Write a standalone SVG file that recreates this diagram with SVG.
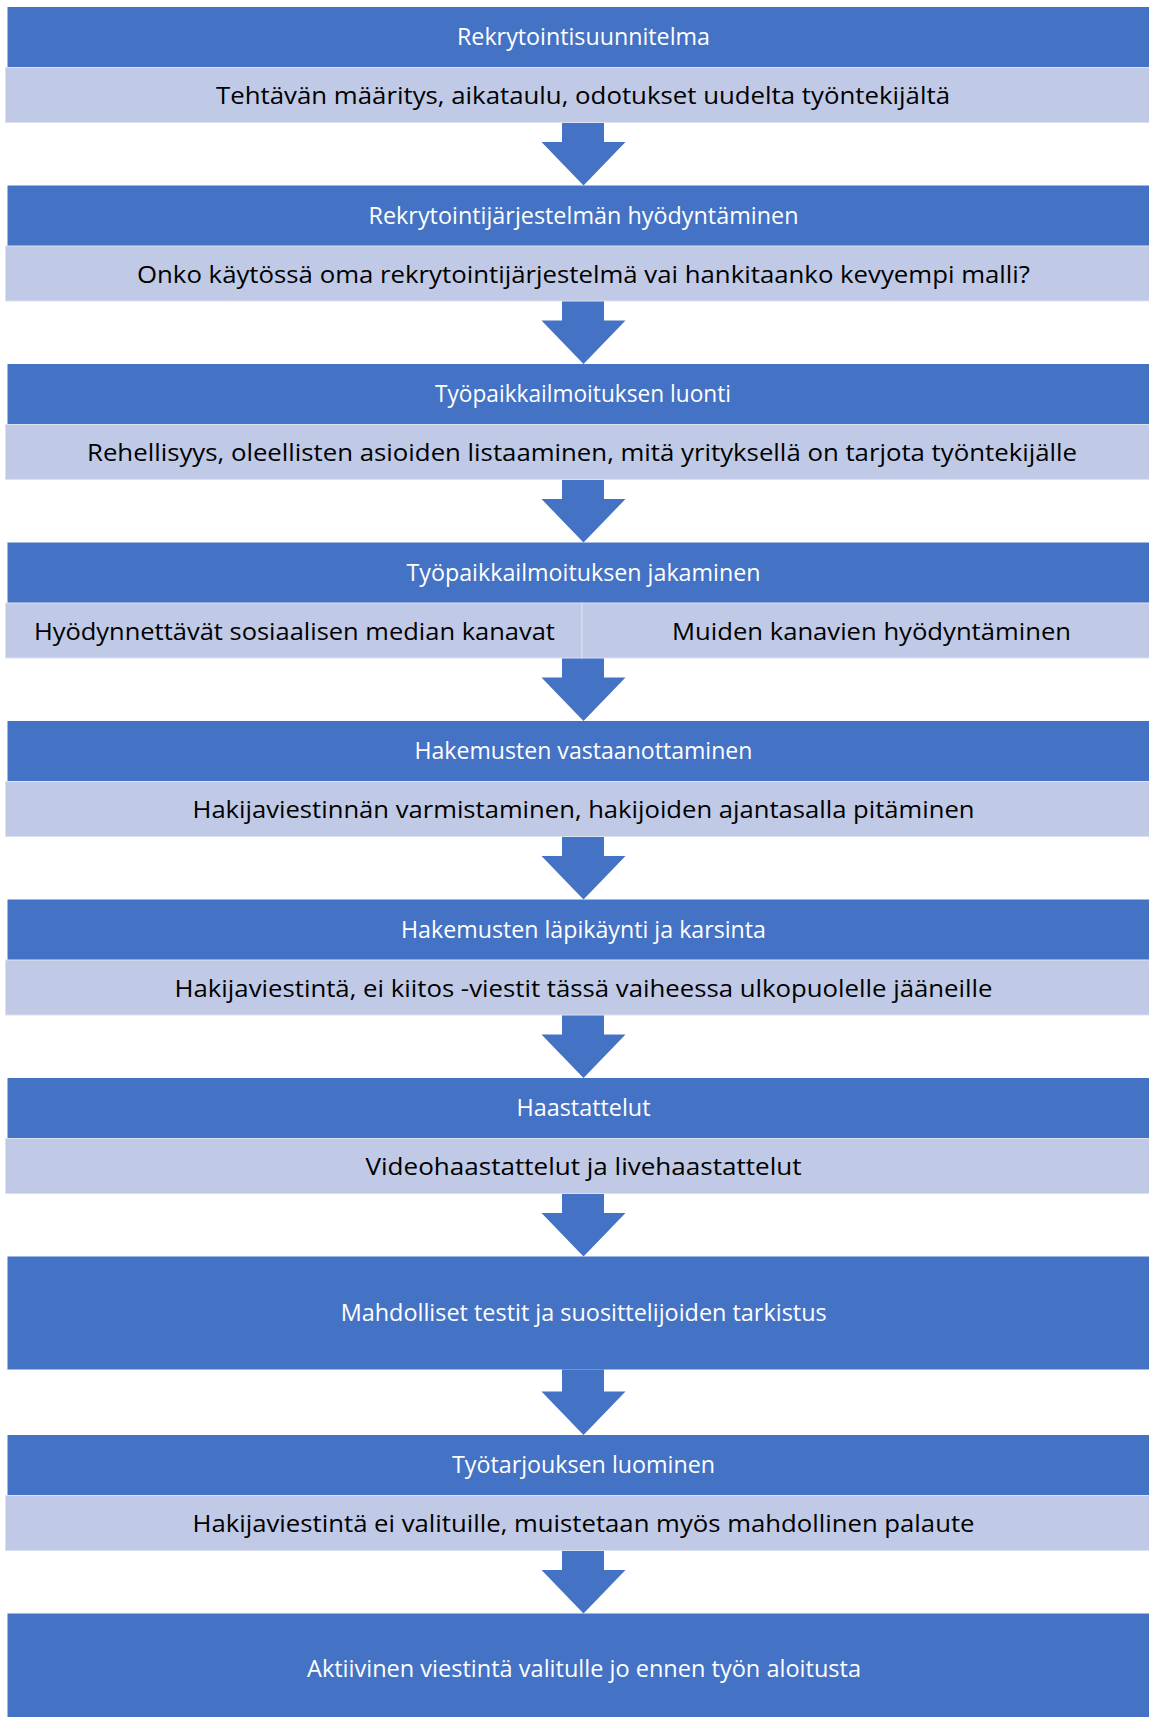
<svg xmlns="http://www.w3.org/2000/svg" width="1149" height="1717" viewBox="0 0 1149 1717">
<style>
.dark{fill:#4472C4;}
.light{fill:#C0CAE6;stroke:#DCE1F1;stroke-width:1;}
.t{font-family:"Open Sans","Noto Sans","Liberation Sans",sans-serif;font-size:23.5px;text-anchor:middle;}
.w{fill:#FFFFFF;}
.b{fill:#000000;}
.arrow{fill:#4472C4;}
</style>
<rect x="0" y="0" width="1149" height="1717" fill="#FFFFFF"/>

<g id="connectors">
<polygon class="arrow" points="562,123 604,123 604,142 625.5,142 583.5,185.5 541.5,142 562,142"/>
<polygon class="arrow" points="562,301 604,301 604,320.5 625.5,320.5 583.5,364 541.5,320.5 562,320.5"/>
<polygon class="arrow" points="562,479.5 604,479.5 604,499 625.5,499 583.5,542.5 541.5,499 562,499"/>
<polygon class="arrow" points="562,658 604,658 604,677.5 625.5,677.5 583.5,721 541.5,677.5 562,677.5"/>
<polygon class="arrow" points="562,836.5 604,836.5 604,856 625.5,856 583.5,899.5 541.5,856 562,856"/>
<polygon class="arrow" points="562,1015 604,1015 604,1034.5 625.5,1034.5 583.5,1078 541.5,1034.5 562,1034.5"/>
<polygon class="arrow" points="562,1193.5 604,1193.5 604,1213 625.5,1213 583.5,1256.5 541.5,1213 562,1213"/>
<polygon class="arrow" points="562,1369.5 604,1369.5 604,1391.5 625.5,1391.5 583.5,1435 541.5,1391.5 562,1391.5"/>
<polygon class="arrow" points="562,1550.5 604,1550.5 604,1570 625.5,1570 583.5,1613.5 541.5,1570 562,1570"/>
</g>

<g id="node1">
<rect class="dark" x="7.5" y="7" width="1160" height="60.5"/>
<rect class="light" x="5.5" y="67.5" width="1160" height="55"/>
<text class="t w" x="583.5" y="45" textLength="253" lengthAdjust="spacingAndGlyphs">Rekrytointisuunnitelma</text>
<text class="t b" x="583" y="104" textLength="734" lengthAdjust="spacingAndGlyphs">Tehtävän määritys, aikataulu, odotukset uudelta työntekijältä</text>
</g>

<g id="node2">
<rect class="dark" x="7.5" y="185.5" width="1160" height="60.5"/>
<rect class="light" x="5.5" y="246" width="1160" height="55"/>
<text class="t w" x="583.5" y="223.5" textLength="430" lengthAdjust="spacingAndGlyphs">Rekrytointijärjestelmän hyödyntäminen</text>
<text class="t b" x="583.5" y="282.5" textLength="893" lengthAdjust="spacingAndGlyphs">Onko käytössä oma rekrytointijärjestelmä vai hankitaanko kevyempi malli?</text>
</g>

<g id="node3">
<rect class="dark" x="7.5" y="364" width="1160" height="60.5"/>
<rect class="light" x="5.5" y="424.5" width="1160" height="55"/>
<text class="t w" x="583" y="402" textLength="296" lengthAdjust="spacingAndGlyphs">Työpaikkailmoituksen luonti</text>
<text class="t b" x="582" y="461" textLength="990" lengthAdjust="spacingAndGlyphs">Rehellisyys, oleellisten asioiden listaaminen, mitä yrityksellä on tarjota työntekijälle</text>
</g>

<g id="node4">
<rect class="dark" x="7.5" y="542.5" width="1160" height="60.5"/>
<rect class="light" x="5.5" y="603" width="576.5" height="55"/>
<rect class="light" x="582" y="603" width="583.5" height="55"/>
<text class="t w" x="583.5" y="580.5" textLength="354" lengthAdjust="spacingAndGlyphs">Työpaikkailmoituksen jakaminen</text>
<text class="t b" x="294.4" y="639.5" textLength="521" lengthAdjust="spacingAndGlyphs">Hyödynnettävät sosiaalisen median kanavat</text>
<text class="t b" x="871.5" y="639.5" textLength="399" lengthAdjust="spacingAndGlyphs">Muiden kanavien hyödyntäminen</text>
</g>

<g id="node5">
<rect class="dark" x="7.5" y="721" width="1160" height="60.5"/>
<rect class="light" x="5.5" y="781.5" width="1160" height="55"/>
<text class="t w" x="583.5" y="759" textLength="338" lengthAdjust="spacingAndGlyphs">Hakemusten vastaanottaminen</text>
<text class="t b" x="583.5" y="818" textLength="782" lengthAdjust="spacingAndGlyphs">Hakijaviestinnän varmistaminen, hakijoiden ajantasalla pitäminen</text>
</g>

<g id="node6">
<rect class="dark" x="7.5" y="899.5" width="1160" height="60.5"/>
<rect class="light" x="5.5" y="960" width="1160" height="55"/>
<text class="t w" x="583.5" y="937.5" textLength="365" lengthAdjust="spacingAndGlyphs">Hakemusten läpikäynti ja karsinta</text>
<text class="t b" x="583.5" y="996.5" textLength="818" lengthAdjust="spacingAndGlyphs">Hakijaviestintä, ei kiitos -viestit tässä vaiheessa ulkopuolelle jääneille</text>
</g>

<g id="node7">
<rect class="dark" x="7.5" y="1078" width="1160" height="60.5"/>
<rect class="light" x="5.5" y="1138.5" width="1160" height="55"/>
<text class="t w" x="583.5" y="1116" textLength="134" lengthAdjust="spacingAndGlyphs">Haastattelut</text>
<text class="t b" x="583.5" y="1175" textLength="436" lengthAdjust="spacingAndGlyphs">Videohaastattelut ja livehaastattelut</text>
</g>

<g id="node8">
<rect class="dark" x="7.5" y="1256.5" width="1160" height="113"/>
<text class="t w" x="583.7" y="1320.7" textLength="486" lengthAdjust="spacingAndGlyphs">Mahdolliset testit ja suosittelijoiden tarkistus</text>
</g>

<g id="node9">
<rect class="dark" x="7.5" y="1435" width="1160" height="60.5"/>
<rect class="light" x="5.5" y="1495.5" width="1160" height="55"/>
<text class="t w" x="583.5" y="1473" textLength="263" lengthAdjust="spacingAndGlyphs">Työtarjouksen luominen</text>
<text class="t b" x="583.5" y="1532" textLength="782" lengthAdjust="spacingAndGlyphs">Hakijaviestintä ei valituille, muistetaan myös mahdollinen palaute</text>
</g>

<g id="node10">
<rect class="dark" x="7.5" y="1613.5" width="1160" height="120"/>
<text class="t w" x="584" y="1677" textLength="554" lengthAdjust="spacingAndGlyphs">Aktiivinen viestintä valitulle jo ennen työn aloitusta</text>
</g>
</svg>
